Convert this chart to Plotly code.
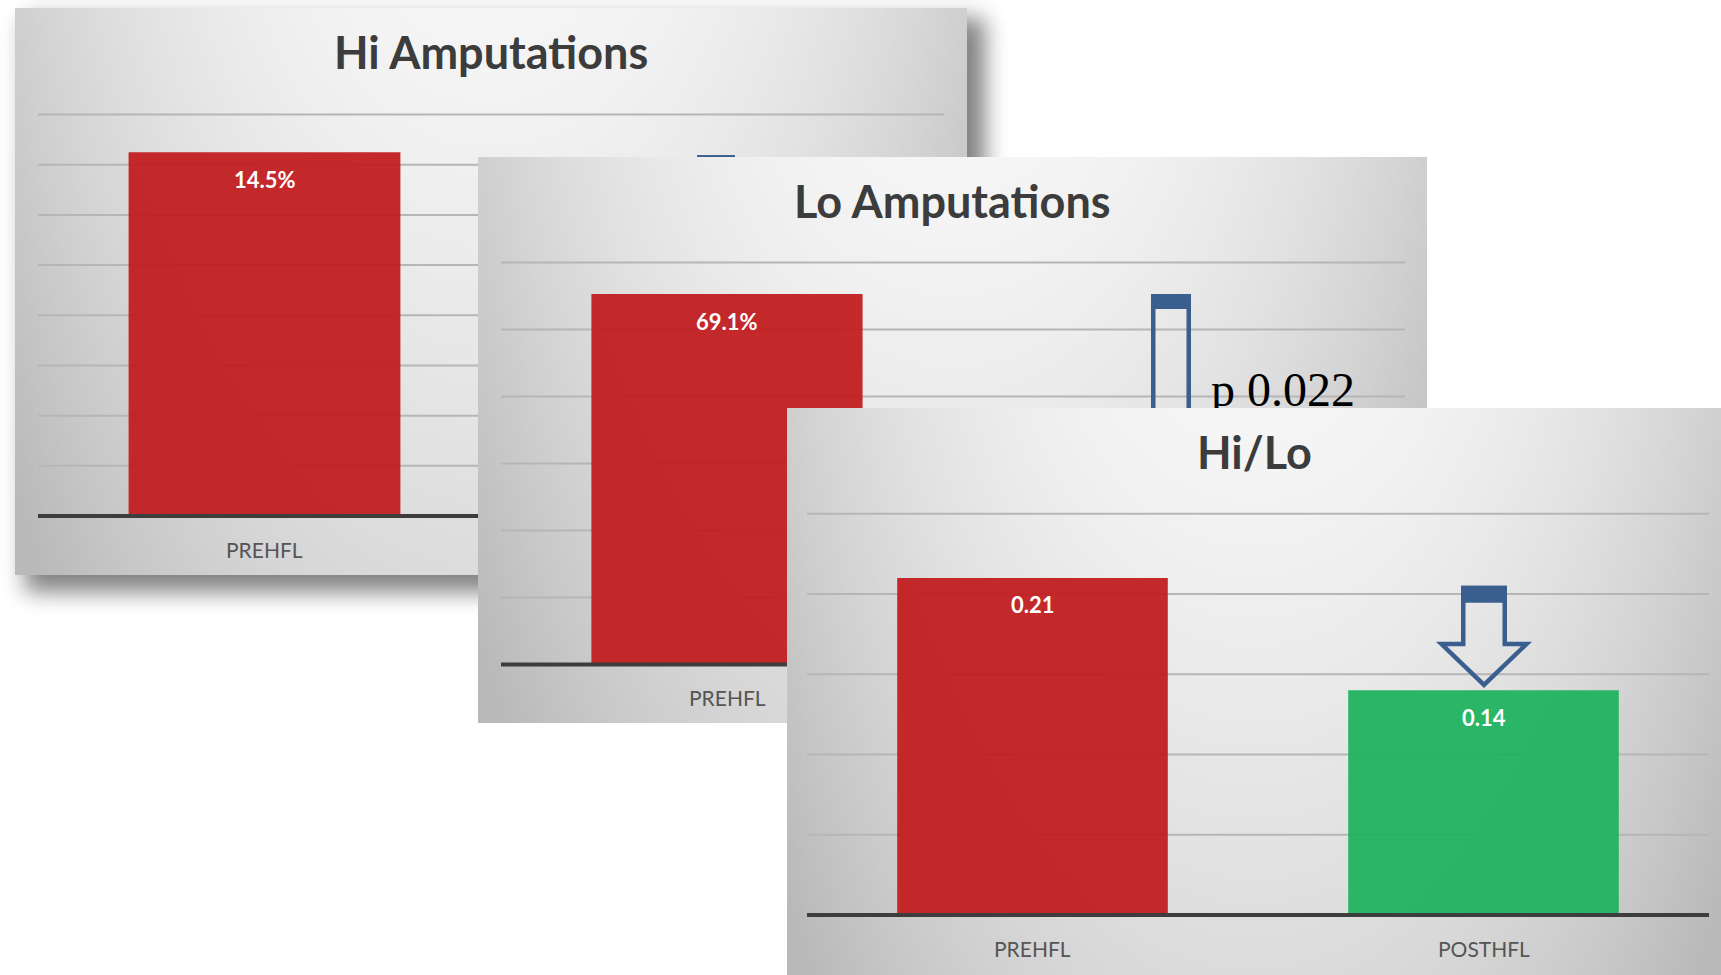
import math
import zlib
import struct
import base64

import numpy as np
import plotly.graph_objects as go

W, H = 1721, 975

# ---------------- data ----------------
categories = ["PREHFL", "POSTHFL"]
hi_values = [14.5]            # Hi Amputations (%), PREHFL
lo_values = [69.1]            # Lo Amputations (%), PREHFL
ratio_values = [0.21, 0.14]   # Hi/Lo ratio, PREHFL vs POSTHFL
p_value_label = "p 0.022"
titles = ["Hi Amputations", "Lo Amputations", "Hi/Lo"]

RED = "#c11e21"
GREEN = "#21b25f"
BLUE = "#3a5f8f"
TITLE_C = "#3c3c3c"
LABEL_C = "#555555"
GRID_C = "#b6b6b6"
AXIS_C = "#3d3d3d"

# ---------------- panel geometry (pixels on the page) ----------------
# box: panel rectangle; grid_x: horizontal extent of the plotting band;
# base_px / top_px: pixel rows of value 0 and of the top gridline.
panels = [
    dict(box=(15, 8, 967, 575), grid_x=(38, 944), base_px=516.0, top_px=114.5,
         grid_top=16.0, dtick=2.0),
    dict(box=(478, 157, 1427, 723), grid_x=(501, 1405), base_px=664.5, top_px=262.5,
         grid_top=75.0, dtick=12.5),
    dict(box=(787, 408, 1721, 975), grid_x=(807, 1709), base_px=915.0, top_px=513.7,
         grid_top=0.25, dtick=0.05),
]

for p in panels:
    x0, y0, x1, y1 = p["box"]
    gx0, gx1 = p["grid_x"]
    p["ppx"] = (gx1 - gx0) / 2.0
    p["ppy"] = (p["base_px"] - p["top_px"]) / p["grid_top"]
    p["xr"] = [-0.5 - (gx0 - x0) / p["ppx"], 1.5 + (x1 - gx1) / p["ppx"]]
    p["yr"] = [-(y1 - p["base_px"]) / p["ppy"], (p["base_px"] - y0) / p["ppy"]]


def xdata(p, px):
    return -0.5 + (px - p["grid_x"][0]) / p["ppx"]


def ydata(p, py):
    return (p["base_px"] - py) / p["ppy"]


# ---------------- small PNG writer for the gradients ----------------
def png_uri(arr):
    arr = np.ascontiguousarray(arr.astype(np.uint8))
    h, w = arr.shape[:2]
    ctype = 0 if arr.ndim == 2 else 6
    raw = b"".join(b"\x00" + arr[r].tobytes() for r in range(h))

    def chunk(tag, data):
        c = struct.pack(">I", len(data)) + tag + data
        return c + struct.pack(">I", zlib.crc32(tag + data) & 0xFFFFFFFF)

    png = (b"\x89PNG\r\n\x1a\n"
           + chunk(b"IHDR", struct.pack(">IIBBBBB", w, h, 8, ctype, 0, 0, 0))
           + chunk(b"IDAT", zlib.compress(raw, 9))
           + chunk(b"IEND", b""))
    return "data:image/png;base64," + base64.b64encode(png).decode()


def panel_gradient(w=240, h=150):
    u = np.linspace(-1, 1, w)[None, :]
    v = np.linspace(0, 1, h)[:, None]
    g = 246 - 38 * np.abs(u) ** 2.2 - 26 * v ** 1.2
    return np.clip(g, 185, 250)


PANEL_BG = png_uri(panel_gradient())


def soft_shadow(rect, sigma, alpha, extent, step=4):
    ex, ey = extent
    xs = np.arange(0, ex, step) + step / 2
    ys = np.arange(0, ey, step) + step / 2
    phi = np.vectorize(lambda t: 0.5 * (1 + math.erf(t / math.sqrt(2))))
    fx = phi((xs - rect[0]) / sigma) - phi((xs - rect[2]) / sigma)
    fy = phi((ys - rect[1]) / sigma) - phi((ys - rect[3]) / sigma)
    a = alpha * fy[:, None] * fx[None, :]
    img = np.zeros((len(ys), len(xs), 4))
    img[..., 3] = np.clip(a * 255, 0, 255)
    return png_uri(img)


SHADOW_EXT = (1040, 640)
SHADOW = soft_shadow((25, 18, 985, 592), 11, 0.5, SHADOW_EXT)

# ---------------- figure ----------------
fig = go.Figure()
shapes, annotations, images = [], [], []

images.append(dict(source=SHADOW, xref="paper", yref="paper", x=0, y=1,
                   sizex=SHADOW_EXT[0] / W, sizey=SHADOW_EXT[1] / H,
                   xanchor="left", yanchor="top", sizing="stretch", layer="below"))


def axis_names(i):
    s = "" if i == 0 else str(i + 1)
    return "x" + s, "y" + s, "xaxis" + s, "yaxis" + s


def arrow_shapes(xref, yref, xa, ya, dx, top, cap, half_w, head_top, head_half, tip, lw):
    """Hollow down arrow with a filled cap; offsets in pixels from (xa, ya), y up."""
    i = lw / 2.0
    sw = half_w - i
    hw = head_half - i * 2
    path = (f"M {dx - sw},{top - i} L {dx + sw},{top - i} L {dx + sw},{head_top - i} "
            f"L {dx + hw},{head_top - i} L {dx},{tip + i * 1.5} L {dx - hw},{head_top - i} "
            f"L {dx - sw},{head_top - i} Z")
    common = dict(xref=xref, yref=yref, xsizemode="pixel", ysizemode="pixel",
                  xanchor=xa, yanchor=ya, layer="between")
    return [
        dict(type="path", path=path, line=dict(color=BLUE, width=lw),
             fillcolor="rgba(0,0,0,0)", **common),
        dict(type="rect", x0=dx - half_w, x1=dx + half_w, y0=cap, y1=top,
             line=dict(width=0), fillcolor=BLUE, **common),
    ]


series = [
    (hi_values, [RED], "{:.1f}%"),
    (lo_values, [RED], "{:.1f}%"),
    (ratio_values, [RED, GREEN], "{:.2f}"),
]

layout_axes = {}
for i, (p, (vals, cols, fmt)) in enumerate(zip(panels, series)):
    xr_, yr_, xk, yk = axis_names(i)
    x0, y0, x1, y1 = p["box"]
    layout_axes[xk] = dict(domain=[x0 / W, x1 / W], range=p["xr"], visible=False,
                           fixedrange=True, anchor=yr_)
    layout_axes[yk] = dict(domain=[1 - y1 / H, 1 - y0 / H], range=p["yr"], visible=False,
                           fixedrange=True, anchor=xr_)

    # panel background
    images.append(dict(source=PANEL_BG, xref=xr_, yref=yr_, x=p["xr"][0], y=p["yr"][1],
                       sizex=p["xr"][1] - p["xr"][0], sizey=p["yr"][1] - p["yr"][0],
                       xanchor="left", yanchor="top", sizing="stretch", layer="below"))

    # horizontal gridlines
    n = int(round(p["grid_top"] / p["dtick"]))
    for k in range(1, n + 1):
        shapes.append(dict(type="line", xref=xr_, yref=yr_, x0=-0.5, x1=1.5,
                           y0=k * p["dtick"], y1=k * p["dtick"], layer="between",
                           line=dict(color=GRID_C, width=2)))

    xs = list(range(len(vals)))
    fig.add_trace(go.Bar(x=xs, y=vals, width=0.6, marker=dict(color=cols, line=dict(width=0)),
                         opacity=0.95, xaxis=xr_, yaxis=yr_, hoverinfo="skip",
                         showlegend=False))
    # category axis line
    fig.add_trace(go.Scatter(x=[-0.5, 1.5], y=[0, 0], mode="lines",
                             line=dict(color=AXIS_C, width=4), xaxis=xr_, yaxis=yr_,
                             hoverinfo="skip", showlegend=False))

    for j, v in enumerate(vals):
        annotations.append(dict(x=j, y=v, xref=xr_, yref=yr_, text="<b>" + fmt.format(v) + "</b>",
                                showarrow=False, yshift=-27, yanchor="middle",
                                font=dict(family="Lato", size=22, color="white")))
        annotations.append(dict(x=j, y=0, xref=xr_, yref=yr_, text=categories[j],
                                showarrow=False, yshift=-33, yanchor="middle",
                                font=dict(family="Lato", size=21, color=LABEL_C)))

    annotations.append(dict(x=(x0 + x1) / 2 / W, y=1 - (y0 + 44) / H, xref="paper", yref="paper",
                            text="<b>" + titles[i] + "</b>", showarrow=False,
                            xanchor="center", yanchor="middle",
                            font=dict(family="Lato", size=45, color=TITLE_C)))

# change arrows from PREHFL level down to POSTHFL
shapes += arrow_shapes("x", "y", 1, hi_values[0], -1.5, -3, -17, 19, -160, 40, -210, 4)
shapes += arrow_shapes("x2", "y2", 1, lo_values[0], -8, 0, -15, 20, -150, 42, -200, 4.5)
shapes += arrow_shapes("x3", "y3", 1, ratio_values[1], 0.5, 104.5, 87.5, 23, 48.5, 47, 2, 4.5)

# significance label, partly hidden behind the front panel
p2 = panels[1]
fig.add_trace(go.Scatter(x=[xdata(p2, 1211)], y=[ydata(p2, 394.0)], mode="text",
                         text=[p_value_label], textposition="middle right",
                         textfont=dict(family="Liberation Serif", size=48, color="black"),
                         xaxis="x2", yaxis="y2", hoverinfo="skip", showlegend=False,
                         cliponaxis=True))

fig.update_layout(
    width=W, height=H, margin=dict(l=0, r=0, t=0, b=0),
    paper_bgcolor="white", plot_bgcolor="#dcdcdc",
    showlegend=False, hovermode=False, barmode="overlay",
    shapes=shapes, annotations=annotations, images=images,
    **layout_axes,
)

fig.write_html("out.html")
